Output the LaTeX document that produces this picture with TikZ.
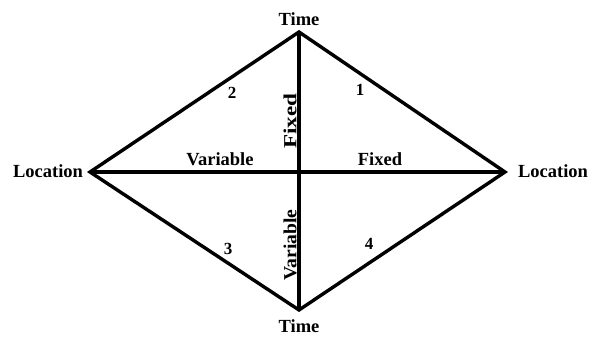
\documentclass[tikz,border=0pt]{standalone}
\usepackage{fontspec}
\setmainfont{Liberation Serif}
\begin{document}
\begin{tikzpicture}[x=1pt,y=-1pt,
  edge/.style={line width=3.4pt,line join=miter,line cap=butt},
  lbl/.style={inner sep=0pt,font=\fontsize{18.5}{20}\selectfont\bfseries},
  num/.style={inner sep=0pt,font=\fontsize{17}{19}\selectfont\bfseries}]
\useasboundingbox (0,0) rectangle (590,338);
\coordinate (T) at (299,32);
\coordinate (B) at (299,310);
\coordinate (L) at (90,172);
\coordinate (R) at (505,172);
\draw[edge] (T) -- (R) -- (B) -- (L) -- cycle;
\draw[edge] (T) -- (B);
\draw[edge] (L) -- (R);
\node[lbl] (tt) at (299,19) {Time};
\node[lbl] (tb) at (299,326) {Time};
\node[lbl] (ll) at (48,171) {Location};
\node[lbl] (lr) at (553,171) {Location};
\node[lbl] (hv) at (220,159) {Variable};
\node[lbl] (hf) at (380,159) {Fixed};
\node[lbl,rotate=90,xscale=1.25] (vf) at (290,121) {Fixed};
\node[lbl,rotate=90,xscale=1.06] (vv) at (290,245) {Variable};
\node[num] (n1) at (360,90) {1};
\node[num] (n2) at (232,93) {2};
\node[num] (n3) at (228,249) {3};
\node[num] (n4) at (369,244) {4};
\end{tikzpicture}
\end{document}
